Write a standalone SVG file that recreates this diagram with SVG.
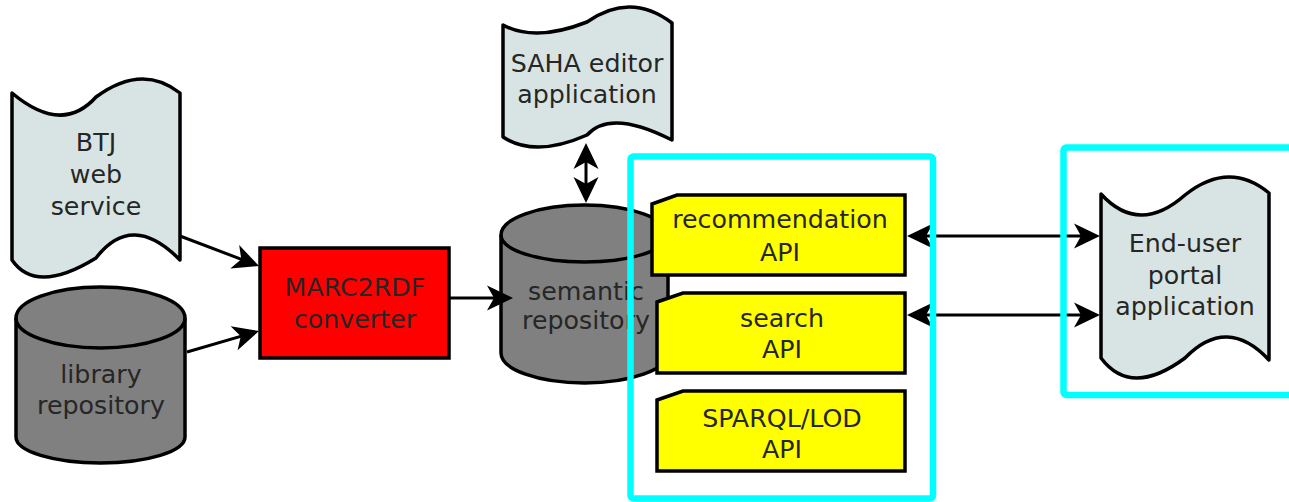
<svg xmlns="http://www.w3.org/2000/svg" width="1289" height="502" viewBox="0 0 1289 502">
<style>
.doc{fill:#d8e4e4;stroke:#000;stroke-width:3.5;stroke-linejoin:round}
.cyl{fill:#808080;stroke:#000;stroke-width:3.5;stroke-linejoin:round}
.api{fill:#ffff00;stroke:#000;stroke-width:3.5;stroke-linejoin:miter}
.proc{fill:#ff0000;stroke:#000;stroke-width:3.5}
.frame{fill:none;stroke:#00ffff;stroke-width:6.5}
.conn{fill:none;stroke:#000;stroke-width:3}
text{font-family:"DejaVu Sans","Liberation Sans",sans-serif;font-size:25.3px;fill:#262626;text-anchor:middle}
</style>
<defs>
<marker id="ah" viewBox="-1 -14 28 28" refX="22" refY="0" markerWidth="28" markerHeight="28" markerUnits="userSpaceOnUse" orient="auto-start-reverse">
<path d="M26,0 L0,-12.5 L7,0 L0,12.5 Z" fill="#000"/>
</marker>
</defs>

<g id="btj">
<path class="doc" d="M12,93 Q62,135 96,97 Q142,63 180,93 L180,260 Q132,211 96,258 Q36,295 12,260 Z"/>
<text x="96" y="151">BTJ</text>
<text x="96" y="183">web</text>
<text x="96" y="215">service</text>
</g>

<g id="library">
<path class="cyl" d="M16,318 A84.5,31 0 0 1 185,318 L185,437 A84.5,26 0 0 1 16,437 Z"/>
<path class="cyl" style="fill:none" d="M16,318 A84.5,30 0 0 0 185,318"/>
<text x="101" y="383">library</text>
<text x="101" y="414">repository</text>
</g>

<g id="marc2rdf">
<rect class="proc" x="260" y="248" width="189" height="110"/>
<text x="355" y="296">MARC2RDF</text>
<text x="355" y="328">converter</text>
</g>

<g id="saha">
<path class="doc" d="M503,25 Q535,42.5 587,22 Q630.5,-8.5 672,23 L672,140 Q610.5,108.5 587,135 Q535,158 503,137 Z"/>
<text x="587" y="72">SAHA editor</text>
<text x="587" y="103">application</text>
</g>

<g id="semantic">
<path class="cyl" d="M501,235 A83.5,30 0 0 1 668,235 L668,353 A83.5,30 0 0 1 501,353 Z"/>
<path class="cyl" style="fill:none" d="M501,235 A83.5,27 0 0 0 668,235"/>
<text x="586" y="300">semantic</text>
<text x="586" y="329">repository</text>
</g>

<g id="enduser">
<path class="doc" d="M1101,194 Q1139,235.5 1185,195 Q1229,160 1269,193 L1269,360 Q1227,315 1185,358 Q1131,398 1101,358 Z"/>
<text x="1185" y="252">End-user</text>
<text x="1185" y="283.5">portal</text>
<text x="1185" y="315">application</text>
</g>

<g id="connectors">
<line class="conn" x1="180" y1="236" x2="255.3" y2="264.6" marker-end="url(#ah)"/>
<line class="conn" x1="187" y1="352" x2="255.2" y2="332.1" marker-end="url(#ah)"/>
<line class="conn" x1="450" y1="298" x2="509" y2="298" marker-end="url(#ah)"/>
<line class="conn" x1="586" y1="147" x2="586" y2="199" marker-start="url(#ah)" marker-end="url(#ah)"/>
<line class="conn" x1="911" y1="236" x2="1096" y2="236" marker-start="url(#ah)" marker-end="url(#ah)"/>
<line class="conn" x1="911" y1="315" x2="1096" y2="315" marker-start="url(#ah)" marker-end="url(#ah)"/>
</g>

<g id="api-frame">
<rect class="frame" x="630.5" y="156.5" width="302.5" height="342" rx="3"/>
</g>
<g id="portal-frame">
<rect class="frame" x="1063.5" y="147.5" width="235" height="247.5" rx="3"/>
</g>

<g id="recommendation-api">
<path class="api" d="M652,204 L677,195 L905,195 L905,275 L652,275 Z"/>
<text x="780" y="228">recommendation</text>
<text x="780" y="261">API</text>
</g>

<g id="search-api">
<path class="api" d="M657,302 L683,293 L905,293 L905,373 L657,373 Z"/>
<text x="782" y="327">search</text>
<text x="782" y="358">API</text>
</g>

<g id="sparql-api">
<path class="api" d="M657,400 L683,391 L905,391 L905,471 L657,471 Z"/>
<text x="782" y="427">SPARQL/LOD</text>
<text x="782" y="458">API</text>
</g>
</svg>
